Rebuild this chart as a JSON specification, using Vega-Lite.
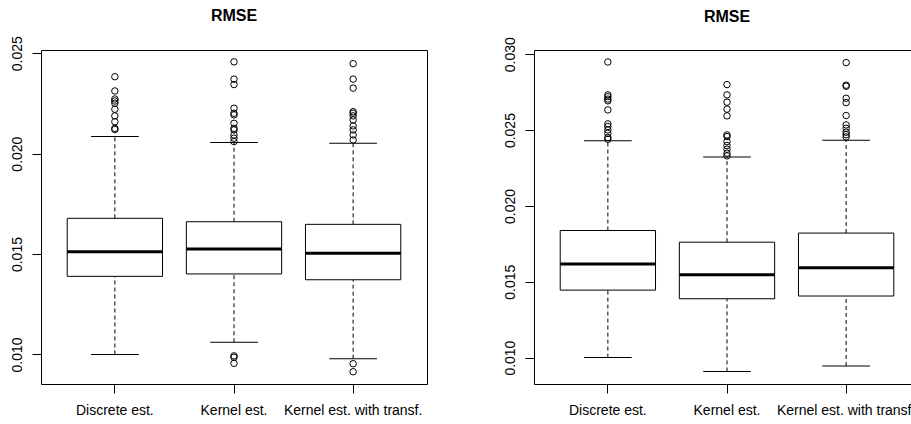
{
  "$schema": "https://vega.github.io/schema/vega-lite/v6.json",
  "padding": {"left": 9, "top": 7, "right": 0, "bottom": 0},
  "background": "white",
  "config": {
    "font": "Liberation Sans",
    "view": {"stroke": "black", "strokeWidth": 1},
    "axis": {"domain": false, "grid": false, "tickColor": "black", "tickSize": 9, "labelColor": "black", "labelFontSize": 14, "labelFont": "Liberation Sans"},
    "tick": {"opacity": 1},
    "title": {"fontSize": 16, "fontWeight": "bold", "font": "Liberation Sans", "color": "black", "anchor": "middle", "baseline": "alphabetic", "offset": 12}
  },
  "datasets": {
    "boxes": [
      {"panel": 1, "g": "Discrete est.", "lo": 0.0100, "q1": 0.01389, "med": 0.01512, "q3": 0.01678, "hi": 0.02085},
      {"panel": 1, "g": "Kernel est.", "lo": 0.01061, "q1": 0.01401, "med": 0.01525, "q3": 0.01661, "hi": 0.02055},
      {"panel": 1, "g": "Kernel est. with transf.", "lo": 0.00979, "q1": 0.01372, "med": 0.01504, "q3": 0.01648, "hi": 0.02052},
      {"panel": 2, "g": "Discrete est.", "lo": 0.0100, "q1": 0.01445, "med": 0.01617, "q3": 0.01838, "hi": 0.02429},
      {"panel": 2, "g": "Kernel est.", "lo": 0.00909, "q1": 0.01388, "med": 0.01546, "q3": 0.01761, "hi": 0.02323},
      {"panel": 2, "g": "Kernel est. with transf.", "lo": 0.00945, "q1": 0.01406, "med": 0.01592, "q3": 0.01821, "hi": 0.02433}
    ],
    "outliers": [
      {"panel": 1, "g": "Discrete est.", "v": 0.02383},
      {"panel": 1, "g": "Discrete est.", "v": 0.02312},
      {"panel": 1, "g": "Discrete est.", "v": 0.02272},
      {"panel": 1, "g": "Discrete est.", "v": 0.02262},
      {"panel": 1, "g": "Discrete est.", "v": 0.02251},
      {"panel": 1, "g": "Discrete est.", "v": 0.02221},
      {"panel": 1, "g": "Discrete est.", "v": 0.02188},
      {"panel": 1, "g": "Discrete est.", "v": 0.02159},
      {"panel": 1, "g": "Discrete est.", "v": 0.02126},
      {"panel": 1, "g": "Discrete est.", "v": 0.0212},
      {"panel": 1, "g": "Kernel est.", "v": 0.02457},
      {"panel": 1, "g": "Kernel est.", "v": 0.02371},
      {"panel": 1, "g": "Kernel est.", "v": 0.02344},
      {"panel": 1, "g": "Kernel est.", "v": 0.02226},
      {"panel": 1, "g": "Kernel est.", "v": 0.02201},
      {"panel": 1, "g": "Kernel est.", "v": 0.02193},
      {"panel": 1, "g": "Kernel est.", "v": 0.02151},
      {"panel": 1, "g": "Kernel est.", "v": 0.02126},
      {"panel": 1, "g": "Kernel est.", "v": 0.02118},
      {"panel": 1, "g": "Kernel est.", "v": 0.02093},
      {"panel": 1, "g": "Kernel est.", "v": 0.02077},
      {"panel": 1, "g": "Kernel est.", "v": 0.0206},
      {"panel": 1, "g": "Kernel est.", "v": 0.00993},
      {"panel": 1, "g": "Kernel est.", "v": 0.00986},
      {"panel": 1, "g": "Kernel est.", "v": 0.00956},
      {"panel": 1, "g": "Kernel est. with transf.", "v": 0.02448},
      {"panel": 1, "g": "Kernel est. with transf.", "v": 0.02371},
      {"panel": 1, "g": "Kernel est. with transf.", "v": 0.02326},
      {"panel": 1, "g": "Kernel est. with transf.", "v": 0.02209},
      {"panel": 1, "g": "Kernel est. with transf.", "v": 0.02201},
      {"panel": 1, "g": "Kernel est. with transf.", "v": 0.02188},
      {"panel": 1, "g": "Kernel est. with transf.", "v": 0.02168},
      {"panel": 1, "g": "Kernel est. with transf.", "v": 0.02138},
      {"panel": 1, "g": "Kernel est. with transf.", "v": 0.02118},
      {"panel": 1, "g": "Kernel est. with transf.", "v": 0.02093},
      {"panel": 1, "g": "Kernel est. with transf.", "v": 0.02068},
      {"panel": 1, "g": "Kernel est. with transf.", "v": 0.00954},
      {"panel": 1, "g": "Kernel est. with transf.", "v": 0.00914},
      {"panel": 2, "g": "Discrete est.", "v": 0.02949},
      {"panel": 2, "g": "Discrete est.", "v": 0.02732},
      {"panel": 2, "g": "Discrete est.", "v": 0.0272},
      {"panel": 2, "g": "Discrete est.", "v": 0.02704},
      {"panel": 2, "g": "Discrete est.", "v": 0.02693},
      {"panel": 2, "g": "Discrete est.", "v": 0.02633},
      {"panel": 2, "g": "Discrete est.", "v": 0.02541},
      {"panel": 2, "g": "Discrete est.", "v": 0.02524},
      {"panel": 2, "g": "Discrete est.", "v": 0.02501},
      {"panel": 2, "g": "Discrete est.", "v": 0.02479},
      {"panel": 2, "g": "Discrete est.", "v": 0.02451},
      {"panel": 2, "g": "Discrete est.", "v": 0.0244},
      {"panel": 2, "g": "Kernel est.", "v": 0.028},
      {"panel": 2, "g": "Kernel est.", "v": 0.02732},
      {"panel": 2, "g": "Kernel est.", "v": 0.02684},
      {"panel": 2, "g": "Kernel est.", "v": 0.02638},
      {"panel": 2, "g": "Kernel est.", "v": 0.02594},
      {"panel": 2, "g": "Kernel est.", "v": 0.02468},
      {"panel": 2, "g": "Kernel est.", "v": 0.02457},
      {"panel": 2, "g": "Kernel est.", "v": 0.02424},
      {"panel": 2, "g": "Kernel est.", "v": 0.02398},
      {"panel": 2, "g": "Kernel est.", "v": 0.02374},
      {"panel": 2, "g": "Kernel est.", "v": 0.02348},
      {"panel": 2, "g": "Kernel est.", "v": 0.0233},
      {"panel": 2, "g": "Kernel est. with transf.", "v": 0.02945},
      {"panel": 2, "g": "Kernel est. with transf.", "v": 0.02796},
      {"panel": 2, "g": "Kernel est. with transf.", "v": 0.02789},
      {"panel": 2, "g": "Kernel est. with transf.", "v": 0.0271},
      {"panel": 2, "g": "Kernel est. with transf.", "v": 0.02681},
      {"panel": 2, "g": "Kernel est. with transf.", "v": 0.02596},
      {"panel": 2, "g": "Kernel est. with transf.", "v": 0.02534},
      {"panel": 2, "g": "Kernel est. with transf.", "v": 0.02512},
      {"panel": 2, "g": "Kernel est. with transf.", "v": 0.02486},
      {"panel": 2, "g": "Kernel est. with transf.", "v": 0.0247},
      {"panel": 2, "g": "Kernel est. with transf.", "v": 0.02455}
    ]
  },
  "spacing": 74,
  "hconcat": [
    {
      "width": 386,
      "height": 334,
      "title": "RMSE",
      "encoding": {
        "x": {"field": "g", "type": "nominal", "sort": ["Discrete est.", "Kernel est.", "Kernel est. with transf."], "scale": {"paddingInner": 0, "paddingOuter": 0.12}, "axis": {"title": null, "labelAngle": 0, "labelPadding": 10.5}}
      },
      "layer": [
        {"data": {"name": "boxes"}, "transform": [{"filter": "datum.panel == 1"}], "mark": {"type": "rule", "color": "black", "strokeDash": [4, 3]}, "encoding": {"y": {"field": "lo", "type": "quantitative", "title": null, "scale": {"domain": [0.00853, 0.02516], "nice": false, "zero": false}, "axis": {"values": [0.010, 0.015, 0.020, 0.025], "format": ".3f", "labelAngle": -90, "labelAlign": "center", "labelBaseline": "bottom", "labelPadding": 8}}, "y2": {"field": "q1"}}},
        {"data": {"name": "boxes"}, "transform": [{"filter": "datum.panel == 1"}], "mark": {"type": "rule", "color": "black", "strokeDash": [4, 3]}, "encoding": {"y": {"field": "q3", "type": "quantitative", "title": null}, "y2": {"field": "hi"}}},
        {"data": {"name": "boxes"}, "transform": [{"filter": "datum.panel == 1"}], "mark": {"type": "tick", "color": "black", "size": 47.7, "thickness": 1, "opacity": 1}, "encoding": {"y": {"field": "lo", "type": "quantitative", "title": null}}},
        {"data": {"name": "boxes"}, "transform": [{"filter": "datum.panel == 1"}], "mark": {"type": "tick", "color": "black", "size": 47.7, "thickness": 1, "opacity": 1}, "encoding": {"y": {"field": "hi", "type": "quantitative", "title": null}}},
        {"data": {"name": "boxes"}, "transform": [{"filter": "datum.panel == 1"}], "mark": {"type": "bar", "fill": "white", "stroke": "black", "strokeWidth": 1, "width": {"band": 0.8}}, "encoding": {"y": {"field": "q1", "type": "quantitative", "title": null}, "y2": {"field": "q3"}}},
        {"data": {"name": "boxes"}, "transform": [{"filter": "datum.panel == 1"}], "mark": {"type": "tick", "color": "black", "size": 95.4, "thickness": 3, "opacity": 1}, "encoding": {"y": {"field": "med", "type": "quantitative", "title": null}}},
        {"data": {"name": "outliers"}, "transform": [{"filter": "datum.panel == 1"}], "mark": {"type": "point", "shape": "circle", "filled": false, "color": "black", "size": 42, "strokeWidth": 1, "opacity": 1}, "encoding": {"y": {"field": "v", "type": "quantitative", "title": null}}}
      ]
    },
    {
      "width": 386,
      "height": 334,
      "title": "RMSE",
      "encoding": {
        "x": {"field": "g", "type": "nominal", "sort": ["Discrete est.", "Kernel est.", "Kernel est. with transf."], "scale": {"paddingInner": 0, "paddingOuter": 0.12}, "axis": {"title": null, "labelAngle": 0, "labelPadding": 10.5}}
      },
      "layer": [
        {"data": {"name": "boxes"}, "transform": [{"filter": "datum.panel == 2"}], "mark": {"type": "rule", "color": "black", "strokeDash": [4, 3]}, "encoding": {"y": {"field": "lo", "type": "quantitative", "title": null, "scale": {"domain": [0.00826, 0.03028], "nice": false, "zero": false}, "axis": {"values": [0.010, 0.015, 0.020, 0.025, 0.030], "format": ".3f", "labelAngle": -90, "labelAlign": "center", "labelBaseline": "bottom", "labelPadding": 8}}, "y2": {"field": "q1"}}},
        {"data": {"name": "boxes"}, "transform": [{"filter": "datum.panel == 2"}], "mark": {"type": "rule", "color": "black", "strokeDash": [4, 3]}, "encoding": {"y": {"field": "q3", "type": "quantitative", "title": null}, "y2": {"field": "hi"}}},
        {"data": {"name": "boxes"}, "transform": [{"filter": "datum.panel == 2"}], "mark": {"type": "tick", "color": "black", "size": 47.7, "thickness": 1, "opacity": 1}, "encoding": {"y": {"field": "lo", "type": "quantitative", "title": null}}},
        {"data": {"name": "boxes"}, "transform": [{"filter": "datum.panel == 2"}], "mark": {"type": "tick", "color": "black", "size": 47.7, "thickness": 1, "opacity": 1}, "encoding": {"y": {"field": "hi", "type": "quantitative", "title": null}}},
        {"data": {"name": "boxes"}, "transform": [{"filter": "datum.panel == 2"}], "mark": {"type": "bar", "fill": "white", "stroke": "black", "strokeWidth": 1, "width": {"band": 0.8}}, "encoding": {"y": {"field": "q1", "type": "quantitative", "title": null}, "y2": {"field": "q3"}}},
        {"data": {"name": "boxes"}, "transform": [{"filter": "datum.panel == 2"}], "mark": {"type": "tick", "color": "black", "size": 95.4, "thickness": 3, "opacity": 1}, "encoding": {"y": {"field": "med", "type": "quantitative", "title": null}}},
        {"data": {"name": "outliers"}, "transform": [{"filter": "datum.panel == 2"}], "mark": {"type": "point", "shape": "circle", "filled": false, "color": "black", "size": 42, "strokeWidth": 1, "opacity": 1}, "encoding": {"y": {"field": "v", "type": "quantitative", "title": null}}}
      ]
    }
  ]
}
